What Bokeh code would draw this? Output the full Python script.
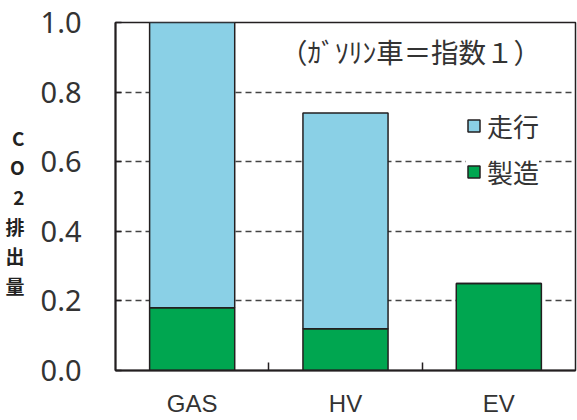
from bokeh.plotting import figure
from bokeh.models import (FactorRange, Range1d, LinearAxis, CategoricalAxis,
                          FixedTicker, Label, Legend, LegendItem, ColumnDataSource,
                          PrintfTickFormatter)
from bokeh.embed import file_html
from bokeh.resources import INLINE

categories = ["GAS", "HV", "EV"]
manufacturing = [0.18, 0.12, 0.25]   # 製造
driving = [0.82, 0.62, 0.0]          # 走行
series_names = ["製造", "走行"]
series_colors = ["#00A650", "#8AD0E6"]
y_ticks = [0.0, 0.2, 0.4, 0.6, 0.8, 1.0]
ylabel_chars = ["C", "O", "2", "排", "出", "量"]
note = "（ｶﾞｿﾘﾝ車＝指数１）"

DARK = "#231f20"
TXT = "#333333"

source = ColumnDataSource(dict(cat=categories, 製造=manufacturing, 走行=driving))

p = figure(x_range=FactorRange(*categories, range_padding=0, factor_padding=0),
           y_range=Range1d(0, 1.0), width=577, height=420,
           output_backend="svg", toolbar_location=None, x_axis_location=None,
           min_border_left=115, min_border_right=2, min_border_top=22,
           min_border_bottom=50)

p.outline_line_color = DARK
p.outline_line_width = 1.5
p.xgrid.visible = False

# y axis
ya = p.yaxis[0]
ya.ticker = FixedTicker(ticks=y_ticks)
ya.formatter = PrintfTickFormatter(format="%.1f")
ya.major_tick_in = 6
ya.major_tick_out = 0
ya.minor_tick_line_color = None
ya.axis_line_color = DARK
ya.axis_line_width = 2
ya.major_tick_line_color = DARK
ya.major_tick_line_width = 1.5
ya.major_label_text_font = "Noto Sans"
ya.major_label_text_font_size = "29px"
ya.major_label_text_color = TXT
ya.major_label_standoff = 34
ya.axis_label = "\n" + "\n".join(ylabel_chars)
ya.axis_label_orientation = "horizontal"
ya.axis_label_text_font = "Noto Sans CJK JP"
ya.axis_label_text_font_style = "bold"
ya.axis_label_text_font_size = "19px"
ya.axis_label_text_line_height = 1.1
ya.axis_label_text_color = "#222222"
ya.axis_label_standoff = 13

p.ygrid.ticker = FixedTicker(ticks=y_ticks)
p.ygrid.grid_line_color = "#444444"
p.ygrid.grid_line_width = 1.3
p.ygrid.grid_line_dash = "6 4"

# separator ticks at category boundaries
sep_ticks = list(range(1, len(categories)))
sep = LinearAxis(ticker=FixedTicker(ticks=sep_ticks),
                 major_label_overrides={t: "" for t in sep_ticks},
                 major_label_text_font_size="1px",
                 major_tick_in=8, major_tick_out=0,
                 major_label_standoff=0, minor_tick_line_color=None,
                 axis_line_color=DARK, axis_line_width=2,
                 major_tick_line_color=DARK, major_tick_line_width=1.5)
p.add_layout(sep, "below")
cax = CategoricalAxis(major_tick_line_color=None, axis_line_color=None,
                      major_label_text_font="Liberation Sans",
                      major_label_text_font_size="24px",
                      major_label_text_color=TXT, major_label_standoff=13)
p.add_layout(cax, "below")

renderers = p.vbar_stack(series_names, x="cat", width=0.555, color=series_colors,
                         line_color=DARK, line_width=1.5, source=source)

legend = Legend(items=[LegendItem(label="走行", renderers=[renderers[1]]),
                       LegendItem(label="製造", renderers=[renderers[0]])],
                location=(351, 180), orientation="vertical",
                glyph_width=15, glyph_height=15, label_height=26, spacing=9,
                padding=10, label_standoff=6,
                label_text_font="Noto Sans CJK JP", label_text_font_size="26px",
                label_text_color=TXT, border_line_color=None,
                background_fill_color="white", background_fill_alpha=1.0)
p.add_layout(legend)

p.add_layout(Label(x=295, y=0.9195, x_units="screen", text=note,
                   text_font="Noto Sans CJK JP", text_font_size="27.5px",
                   text_color=TXT, text_align="center", text_baseline="middle"))

open("out.html", "w").write(file_html(p, INLINE))
